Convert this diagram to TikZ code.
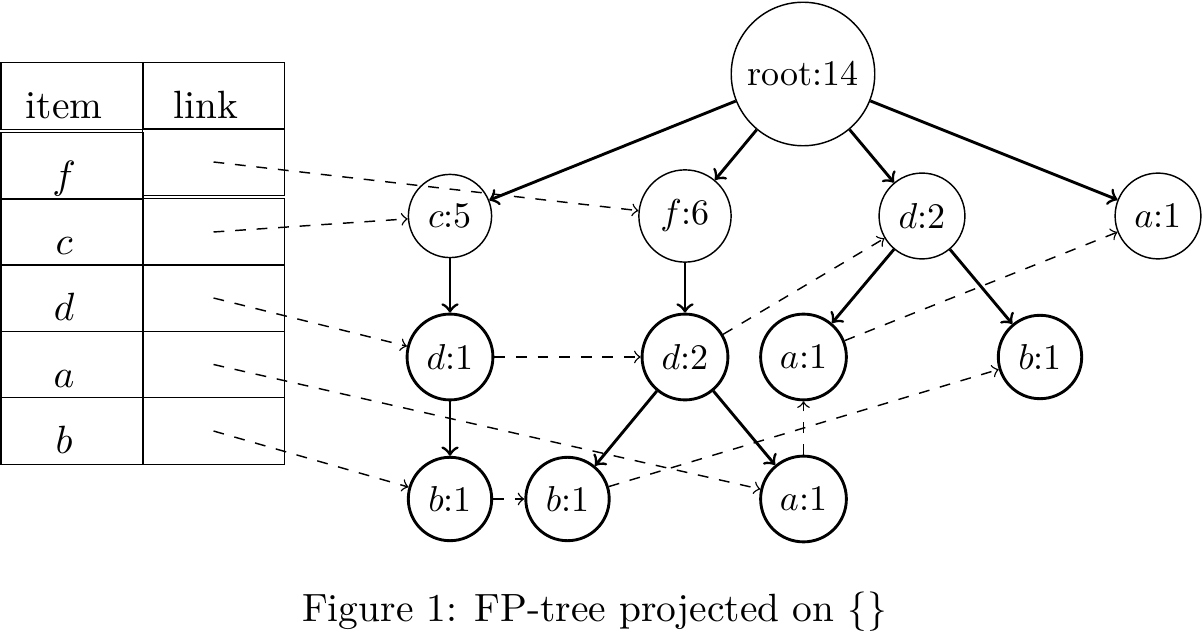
\documentclass[tikz,border=0pt]{standalone}
\begin{document}
\begin{tikzpicture}[x=0.27778pt,y=-0.27778pt,
  thinnode/.style={circle,draw,line width=0.4pt},
  thicknode/.style={circle,draw,line width=0.8pt},
  treeedge/.style={->,line width=0.8pt},
  linkedge/.style={->,dashed,line width=0.4pt},
  cell/.style={draw,line width=0.4pt,rectangle,minimum width=39.44pt,minimum height=18.47pt,inner sep=0pt,text height=12.6pt,text depth=0pt,font=\fontsize{10.95}{13.6}\selectfont},
  textcell/.style={cell,execute at begin node={\hspace*{-4.4pt}}},
]
\useasboundingbox (0,0) rectangle (1203,636);
% table
\node[textcell] (hitem) at (72,96) {item};
\node[textcell] (hlink) at (213.5,96) {link};
\node[textcell] (if) at (72,166) {$f$};
\node[cell] (lf) at (213.5,162) {};
\node[textcell] (ic) at (72,232) {$c$};
\node[cell] (lc) at (213.5,232) {};
\node[textcell] (id) at (72,298) {$d$};
\node[cell] (ld) at (213.5,298) {};
\node[textcell] (ia) at (72,364.5) {$a$};
\node[cell] (la) at (213.5,364.5) {};
\node[textcell] (ib) at (72,431) {$b$};
\node[cell] (lb) at (213.5,431) {};
% tree nodes
\node[thinnode] (root) at (803,74) {root:14};
\node[thinnode] (c5) at (450,216) {$c$:5};
\node[thinnode] (f6) at (685,216) {$f$:6};
\node[thinnode] (d2t) at (922,216) {$d$:2};
\node[thinnode] (a1t) at (1158,216) {$a$:1};
\node[thicknode] (d1) at (450,357) {$d$:1};
\node[thicknode] (d2m) at (685,357) {$d$:2};
\node[thicknode] (a1m) at (803.5,357) {$a$:1};
\node[thicknode] (b1r) at (1040,357) {$b$:1};
\node[thicknode] (b1a) at (450,499) {$b$:1};
\node[thicknode] (b1b) at (567.5,499) {$b$:1};
\node[thicknode] (a1b) at (803.5,499) {$a$:1};
% tree edges
\draw[treeedge] (root) -- (c5);
\draw[treeedge] (root) -- (f6);
\draw[treeedge] (root) -- (d2t);
\draw[treeedge] (root) -- (a1t);
\draw[treeedge] (c5) -- (d1);
\draw[treeedge] (d1) -- (b1a);
\draw[treeedge] (f6) -- (d2m);
\draw[treeedge] (d2m) -- (b1b);
\draw[treeedge] (d2m) -- (a1b);
\draw[treeedge] (d2t) -- (a1m);
\draw[treeedge] (d2t) -- (b1r);
% node links
\draw[linkedge] (lf.center) -- (f6);
\draw[linkedge] (lc.center) -- (c5);
\draw[linkedge] (ld.center) -- (d1);
\draw[linkedge] (la.center) -- (a1b);
\draw[linkedge] (lb.center) -- (b1a);
\draw[linkedge] (d1) -- (d2m);
\draw[linkedge] (d2m) -- (d2t);
\draw[linkedge] (b1a) -- (b1b);
\draw[linkedge] (b1b) -- (b1r);
\draw[linkedge] (a1b) -- (a1m);
\draw[linkedge] (a1m) -- (a1t);
% caption
\node[font=\fontsize{10.95}{13.6}\selectfont] (caption) at (594.5,612) {Figure 1: FP-tree projected on $\{\}$};
\end{tikzpicture}
\end{document}
